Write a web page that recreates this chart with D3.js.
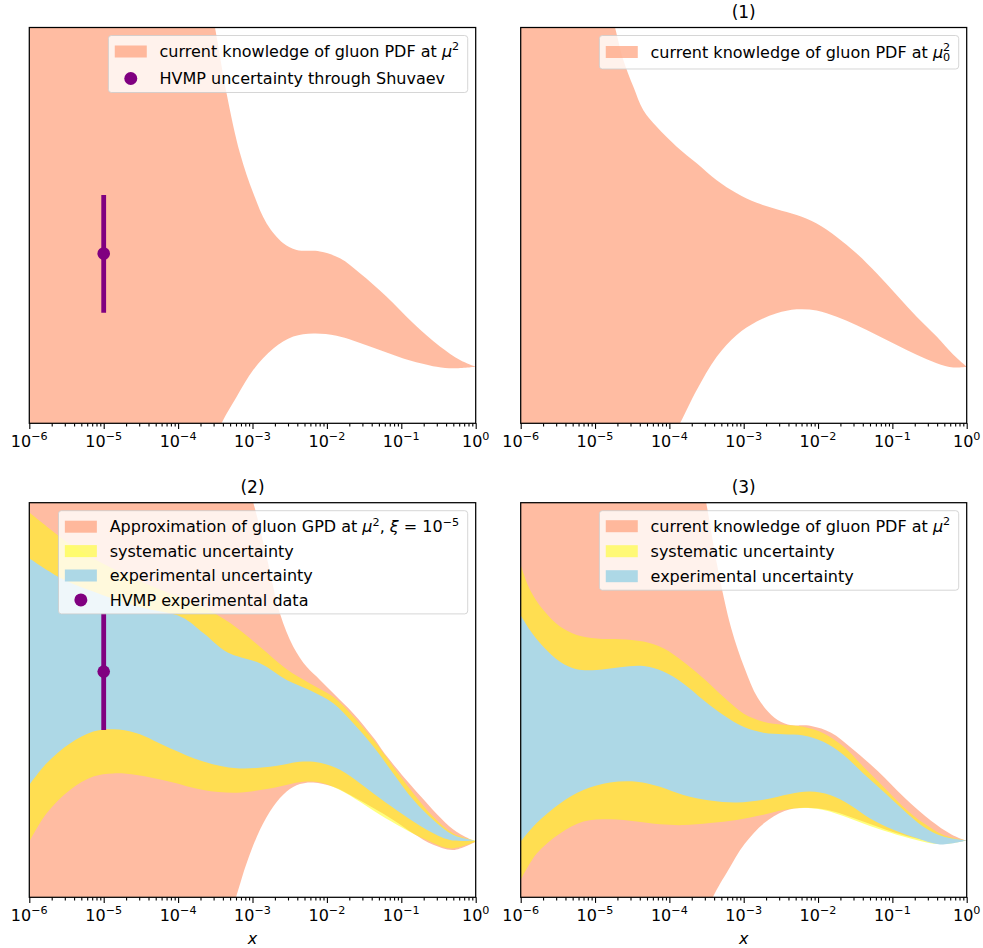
<!DOCTYPE html>
<html><head><meta charset="utf-8">
<script src="https://cdn.jsdelivr.net/npm/d3@7"></script>
<style>html,body{margin:0;padding:0;background:#fff;} svg{display:block;font-family:"DejaVu Sans",sans-serif;}</style>
</head><body><svg id="chart" width="983" height="948"></svg>
<script>
// ---------- DATA (x given as log10 exponent, y in arbitrary units 0..100 of the visible range) ----------
const xTickExponents = [-6, -5, -4, -3, -2, -1, 0];
const panelTitles = ["", "(1)", "(2)", "(3)"];

// gluon PDF at mu^2 (panels top-left and (3))
const pdfMuUpper = [[-6,300],[-5,220],[-4,150],[-3.504,100],[-3.348,83.3],[-3.168,68.2],[-2.989,58.1],[-2.810,50.5],[-2.586,45.5],[-2.407,43.8],[-2.093,43.4],[-1.824,41.7],[-1.556,37.9],[-1.197,32.0],[-0.839,25.3],[-0.480,19.4],[-0.211,16.0],[0,14.3]];
const pdfMuLower = [[-6,-120],[-5,-70],[-4,-25],[-3.415,0],[-3.213,6.7],[-2.989,13.5],[-2.720,18.9],[-2.452,21.9],[-2.183,22.7],[-1.869,22.1],[-1.421,19.4],[-0.973,16.4],[-0.525,14.3],[-0.301,13.9],[0,14.3]];

// gluon PDF at mu0^2 (panel (1))
const pdfMu0Upper = [[-6,200],[-5.5,150],[-5,120],[-4.731,100],[-4.619,91.8],[-4.484,85.0],[-4.350,79.1],[-4.170,74.9],[-3.901,69.9],[-3.632,65.7],[-3.363,61.4],[-3.094,58.1],[-2.825,55.7],[-2.556,54.1],[-2.287,52.6],[-2.018,50.5],[-1.749,47.1],[-1.480,42.9],[-1.211,37.9],[-0.942,32.4],[-0.673,26.9],[-0.404,21.9],[-0.179,17.3],[0,14.3]];
const pdfMu0Lower = [[-6,-80],[-5,-40],[-4.3,-15],[-3.857,0],[-3.632,8.4],[-3.363,16.8],[-3.094,22.3],[-2.825,25.7],[-2.556,27.8],[-2.287,28.8],[-2.018,28.5],[-1.749,26.9],[-1.480,24.8],[-1.211,22.3],[-0.942,19.8],[-0.673,17.3],[-0.404,15.2],[-0.179,14.1],[0,14.3]];

// gluon GPD approximation (panel (2))
const gpdUpper = [[-6,300],[-5,230],[-4,160],[-3.3,118],[-2.989,100],[-2.810,86.3],[-2.631,71.9],[-2.452,63.5],[-2.272,58.4],[-2.093,55.1],[-1.914,51.7],[-1.645,46.6],[-1.376,40.5],[-1.197,35.8],[-0.749,25.8],[-0.301,17.2],[0,14.1]];
const gpdLower = [[-6,-150],[-5,-100],[-4,-45],[-3.222,0],[-3.079,8.6],[-2.900,17.1],[-2.720,23.0],[-2.541,26.8],[-2.362,28.7],[-2.183,29.1],[-1.914,28.0],[-1.645,25.5],[-1.376,22.6],[-1.108,19.6],[-0.839,16.2],[-0.570,13.3],[-0.301,12.0],[0,14.1]];
const sysUpperC = [[-6,97.5],[-5.767,94],[-5.453,89.5],[-5.005,84.5],[-4.557,80.5],[-4.109,77],[-3.661,73.5],[-3.3,69.5],[-2.900,63.5],[-2.541,57.8],[-2.228,54.2],[-1.914,50.8],[-1.645,45.8],[-1.376,39.9],[-1.108,33.1],[-0.839,26.4],[-0.570,20.4],[-0.301,16.2],[0,14.4]];
const sysLowerC = [[-6,14.1],[-5.767,21.3],[-5.453,27.2],[-5.140,30.6],[-4.871,31.4],[-4.557,31.0],[-4.109,29.3],[-3.661,27.2],[-3.213,26.5],[-2.765,27.6],[-2.317,29.3],[-2.093,29.1],[-1.824,27.2],[-1.556,24.2],[-1.287,20.9],[-0.973,17.5],[-0.659,14.5],[-0.346,12.4],[0,14.1]];
const expUpperC = [[-6,85.9],[-5.56,80.7],[-5.0,76.5],[-4.5,73.5],[-3.95,71.0],[-3.661,67.0],[-3.34,62.1],[-2.900,59.3],[-2.541,55.1],[-2.228,52.5],[-1.914,49.2],[-1.645,44.1],[-1.376,38.2],[-1.108,31.4],[-0.839,24.7],[-0.570,19.6],[-0.301,15.8],[0,14.4]];
const expLowerC = [[-6,28.5],[-5.767,34.0],[-5.453,39.0],[-5.140,42.0],[-4.871,42.6],[-4.557,41.6],[-4.109,37.8],[-3.661,34.4],[-3.213,32.7],[-2.765,33.1],[-2.317,34.4],[-2.093,34.1],[-1.824,32.3],[-1.556,28.9],[-1.287,25.1],[-0.973,20.9],[-0.659,17.1],[-0.346,14.5],[0,14.4]];

// panel (3) uncertainties
const sysUpperD = [[-6,84.2],[-5.874,77.9],[-5.695,72.8],[-5.471,68.6],[-5.247,66.5],[-4.978,65.6],[-4.664,65.4],[-4.350,64.8],[-4.081,63.1],[-3.812,59.7],[-3.543,55.5],[-3.274,50.8],[-3.004,46.6],[-2.735,44.5],[-2.466,43.7],[-2.197,43.2],[-1.928,41.6],[-1.659,38.2],[-1.390,33.1],[-1.121,28.0],[-0.852,22.9],[-0.583,18.8],[-0.314,15.8],[0,14.4]];
const sysLowerD = [[-6,4.4],[-5.785,11.1],[-5.471,16.2],[-5.157,19.2],[-4.798,19.8],[-4.439,19.2],[-4.126,18.5],[-3.812,18.3],[-3.453,18.8],[-3.094,19.6],[-2.735,20.9],[-2.466,22.1],[-2.197,22.6],[-1.928,22.1],[-1.570,20.0],[-1.211,17.5],[-0.852,15.4],[-0.538,13.9],[-0.314,13.5],[0,14.4]];
const expUpperD = [[-6,71.5],[-5.874,67.7],[-5.695,63.5],[-5.471,59.7],[-5.247,57.8],[-4.978,57.6],[-4.664,58.3],[-4.350,58.6],[-4.081,57.2],[-3.812,54.2],[-3.543,50.0],[-3.274,46.2],[-3.004,43.2],[-2.735,41.7],[-2.466,41.3],[-2.197,41.0],[-1.928,39.4],[-1.659,36.1],[-1.390,31.4],[-1.121,26.8],[-0.852,22.1],[-0.583,17.9],[-0.314,15.4],[0,14.4]];
const expLowerD = [[-6,14.1],[-5.785,18.8],[-5.471,23.8],[-5.157,27.2],[-4.798,29.1],[-4.439,29.3],[-4.126,28.0],[-3.812,25.9],[-3.453,24.5],[-3.094,24.0],[-2.735,24.7],[-2.377,26.2],[-2.108,26.8],[-1.839,25.9],[-1.570,23.4],[-1.300,20.0],[-0.987,17.1],[-0.673,15.0],[-0.359,13.4],[0,14.4]];

// HVMP points: [log10 x, central, low, high]
const shuvaevPoint = [[-5, 42.9, 27.9, 57.7]];
const hvmpPoint = [[-5, 57.2, 42.4, 72.0]];

// ---------- STYLE / LAYOUT ----------
const C_SALMON = "#FFA07A", A_SALMON = 0.7;
const C_YELLOW = "#FFFF00", A_YELLOW = 0.5;
const C_BLUE = "#ADD8E6";
const C_PURPLE = "#800080";
const FS = 16;

const muSq = [{t:"current knowledge of gluon PDF at "},{t:"μ",i:true},{t:"2",sup:true}];
const panels = [
  {x0:29.3, x1:475.7, y0:27.5, y1:423.3, title:panelTitles[0], xlabel:false,
   bands:[{u:pdfMuUpper,l:pdfMuLower,c:C_SALMON,a:A_SALMON}], point:shuvaevPoint,
   legend:{topPad:16, pitch:27, botPad:14, rows:[
     {kind:"patch", c:C_SALMON, a:A_SALMON, label:muSq},
     {kind:"marker", label:[{t:"HVMP uncertainty through Shuvaev"}]}]}},
  {x0:520.7, x1:966.7, y0:27.5, y1:423.3, title:panelTitles[1], xlabel:false,
   bands:[{u:pdfMu0Upper,l:pdfMu0Lower,c:C_SALMON,a:A_SALMON}], point:null,
   legend:{topPad:16.5, pitch:25, botPad:17, rows:[
     {kind:"patch", c:C_SALMON, a:A_SALMON, label:[{t:"current knowledge of gluon PDF at "},{t:"μ",i:true},{t:"2",sup:true},{t:"0",sub:true}]}]}},
  {x0:29.3, x1:475.7, y0:502.7, y1:897.3, title:panelTitles[2], xlabel:true,
   bands:[{u:gpdUpper,l:gpdLower,c:C_SALMON,a:A_SALMON},{u:sysUpperC,l:sysLowerC,c:C_YELLOW,a:A_YELLOW},{u:expUpperC,l:expLowerC,c:C_BLUE,a:1}], point:hvmpPoint,
   legend:{topPad:16, pitch:24.4, botPad:14, rows:[
     {kind:"patch", c:C_SALMON, a:A_SALMON, label:[{t:"Approximation of gluon GPD at "},{t:"μ",i:true},{t:"2",sup:true},{t:", "},{t:"ξ",i:true},{t:" = 10"},{t:"−5",sup:true}]},
     {kind:"patch", c:C_YELLOW, a:A_YELLOW, label:[{t:"systematic uncertainty"}]},
     {kind:"patch", c:C_BLUE, a:1, label:[{t:"experimental uncertainty"}]},
     {kind:"marker", label:[{t:"HVMP experimental data"}]}]}},
  {x0:520.7, x1:966.7, y0:502.7, y1:897.3, title:panelTitles[3], xlabel:true,
   bands:[{u:pdfMuUpper,l:pdfMuLower,c:C_SALMON,a:A_SALMON},{u:sysUpperD,l:sysLowerD,c:C_YELLOW,a:A_YELLOW},{u:expUpperD,l:expLowerD,c:C_BLUE,a:1}], point:null,
   legend:{topPad:15.5, pitch:25, botPad:14, rows:[
     {kind:"patch", c:C_SALMON, a:A_SALMON, label:muSq},
     {kind:"patch", c:C_YELLOW, a:A_YELLOW, label:[{t:"systematic uncertainty"}]},
     {kind:"patch", c:C_BLUE, a:1, label:[{t:"experimental uncertainty"}]}]}}
];

const svg = d3.select("#chart");
const xOf = e => Math.pow(10, e);

function richText(sel, segs, size) {
  let prev = null;
  segs.forEach(s => {
    const ts = sel.append("tspan").text(s.t);
    if (s.i) ts.attr("font-style", "italic");
    if (s.sup) { ts.attr("font-size", size*0.7).attr("dy", -size*0.42); prev = "sup"; }
    else if (s.sub) { ts.attr("font-size", size*0.7).attr("dx", -size*0.7*0.636).attr("dy", size*0.42 + size*0.22); prev = "sub"; }
    else if (prev) { ts.attr("dy", prev === "sup" ? size*0.42 : -(size*0.22)); prev = null; }
  });
}

panels.forEach((p, pi) => {
  const x = d3.scaleLog().domain([1e-6, 1]).range([p.x0, p.x1]);
  const y = d3.scaleLinear().domain([0, 100]).range([p.y1, p.y0]);
  const g = svg.append("g");
  const clipId = "clip" + pi;
  g.append("clipPath").attr("id", clipId).append("rect")
    .attr("x", p.x0).attr("y", p.y0).attr("width", p.x1 - p.x0).attr("height", p.y1 - p.y0);

  const line = d3.line().x(d => x(xOf(d[0]))).y(d => y(d[1])).curve(d3.curveCatmullRom.alpha(0.5));
  const plot = g.append("g").attr("clip-path", `url(#${clipId})`);
  p.bands.forEach(b => {
    const up = line(b.u), lo = line(b.l.slice().reverse());
    plot.append("path").attr("d", up + "L" + lo.slice(1) + "Z")
      .attr("fill", b.c).attr("fill-opacity", b.a).attr("stroke", "none");
  });
  if (p.point) {
    p.point.forEach(d => {
      plot.append("line").attr("x1", x(xOf(d[0]))).attr("x2", x(xOf(d[0])))
        .attr("y1", y(d[2])).attr("y2", y(d[3])).attr("stroke", C_PURPLE).attr("stroke-width", 4.8);
      plot.append("circle").attr("cx", x(xOf(d[0]))).attr("cy", y(d[1])).attr("r", 6.3).attr("fill", C_PURPLE);
    });
  }

  // axis ticks
  const majors = xTickExponents.map(xOf);
  const minors = [];
  for (let e = -6; e < 0; e++) for (let k = 2; k <= 9; k++) minors.push(k * xOf(e));
  const ax = g.append("g").attr("transform", `translate(0,${p.y1})`);
  ax.call(d3.axisBottom(x).tickValues(majors).tickSize(5.6).tickFormat(() => ""));
  ax.append("g").call(d3.axisBottom(x).tickValues(minors).tickSize(3.2).tickFormat(() => ""));
  ax.selectAll(".domain").remove();
  ax.selectAll("line").attr("stroke", "#000").attr("stroke-width", 1.1);
  xTickExponents.forEach(e => {
    const t = g.append("text").attr("x", x(xOf(e))).attr("y", p.y1 + 23.5)
      .attr("text-anchor", "middle").attr("font-size", FS).attr("fill", "#000");
    t.append("tspan").text("10");
    t.append("tspan").text(e < 0 ? "−" + (-e) : String(e)).attr("font-size", FS*0.7).attr("dy", -6.8);
  });

  // spines
  g.append("rect").attr("x", p.x0).attr("y", p.y0).attr("width", p.x1 - p.x0).attr("height", p.y1 - p.y0)
    .attr("fill", "none").attr("stroke", "#000").attr("stroke-width", 1.25);

  if (p.title) {
    g.append("text").attr("x", (p.x0 + p.x1)/2).attr("y", p.y0 - 9.8).attr("text-anchor", "middle")
      .attr("font-size", 17).attr("fill", "#000").text(p.title);
  }
  if (p.xlabel) {
    g.append("text").attr("x", (p.x0 + p.x1)/2).attr("y", p.y1 + 46.5).attr("text-anchor", "middle")
      .attr("font-size", FS).attr("font-style", "italic").attr("fill", "#000").text("x");
  }

  // legend
  const L = p.legend;
  const lg = g.append("g");
  const top = p.y0 + 8;
  let maxW = 0;
  const textX0 = 51.2;
  const texts = [];
  L.rows.forEach((r, i) => {
    const cy = top + L.topPad + i * L.pitch;
    const t = lg.append("text").attr("y", cy + 5.6).attr("font-size", FS).attr("fill", "#000");
    richText(t, r.label, FS);
    texts.push({t, r, cy});
    maxW = Math.max(maxW, t.node().getBBox().width);
  });
  const boxW = textX0 + maxW + 8.5;
  const boxX = p.x1 - 8 - boxW;
  const boxH = L.topPad + (L.rows.length - 1) * L.pitch + L.botPad;
  lg.insert("rect", ":first-child").attr("x", boxX).attr("y", top).attr("width", boxW).attr("height", boxH)
    .attr("rx", 3).attr("ry", 3).attr("fill", "#fff").attr("fill-opacity", 0.8)
    .attr("stroke", "#cccccc").attr("stroke-opacity", 0.8).attr("stroke-width", 1);
  texts.forEach(o => {
    o.t.attr("x", boxX + textX0);
    if (o.r.kind === "patch") {
      lg.append("rect").attr("x", boxX + 6.4).attr("y", o.cy - 6).attr("width", 32).attr("height", 12)
        .attr("fill", o.r.c).attr("fill-opacity", o.r.a);
    } else {
      lg.append("circle").attr("cx", boxX + 6.4 + 16).attr("cy", o.cy).attr("r", 6.5).attr("fill", C_PURPLE);
    }
  });
});
</script></body></html>
